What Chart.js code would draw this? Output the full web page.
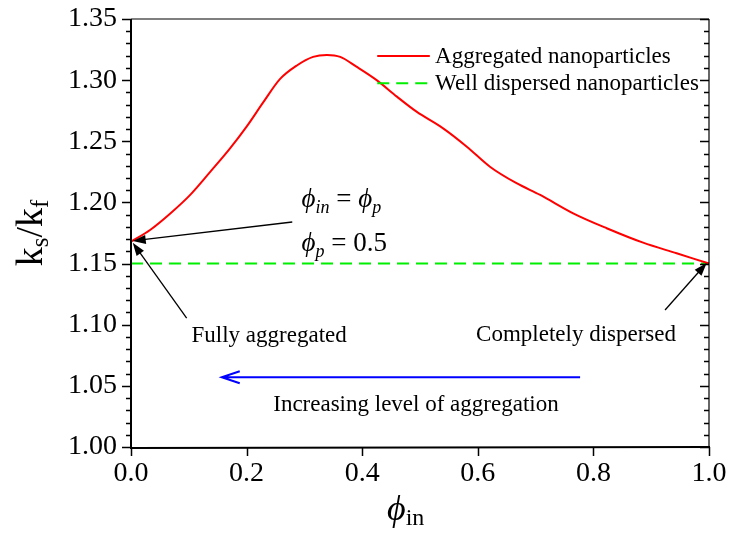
<!DOCTYPE html>
<html>
<head>
<meta charset="utf-8">
<script src="https://cdn.jsdelivr.net/npm/chart.js@4.4.1/dist/chart.umd.min.js"></script>
<style>
  html, body { margin: 0; padding: 0; background: #fff; }
  #wrap { width: 731px; height: 533px; }
</style>
</head>
<body>
<div id="wrap"><canvas id="conductivity" width="731" height="533"></canvas></div>
<script>
// k_s/k_f against the volume fraction inside the aggregates
const phiIn = [0.0, 0.033, 0.068, 0.102, 0.137, 0.171, 0.200, 0.229, 0.258, 0.287, 0.315, 0.339, 0.362, 0.390, 0.425, 0.460, 0.494, 0.540, 0.581, 0.621, 0.667, 0.708, 0.765, 0.823, 0.886, 0.944, 1.0];
const ksKfAggregated = [1.168, 1.1775, 1.191, 1.206, 1.225, 1.244, 1.262, 1.282, 1.301, 1.312, 1.319, 1.3206, 1.319, 1.311, 1.300, 1.2865, 1.2742, 1.2606, 1.2456, 1.2292, 1.2157, 1.2061, 1.1911, 1.1789, 1.1671, 1.1584, 1.15];
const phiWell = [0.0, 1.0];
const ksKfWell = [1.15, 1.15];
const xTicks = [0.0, 0.2, 0.4, 0.6, 0.8, 1.0];
const yTicks = [1.00, 1.05, 1.10, 1.15, 1.20, 1.25, 1.30, 1.35];
const yMinorStep = 0.01;

const SERIF = '"Liberation Serif", "Times New Roman", "DejaVu Serif", serif';

// draw a row of text pieces (for subscripts), returns the end x
function drawRuns(ctx, x, y, runs) {
  ctx.textBaseline = 'alphabetic';
  ctx.textAlign = 'left';
  for (const r of runs) {
    ctx.font = r.font;
    ctx.fillText(r.text, x, y + (r.dy || 0));
    x += ctx.measureText(r.text).width;
  }
  return x;
}

function runsWidth(ctx, runs) {
  let w = 0;
  for (const r of runs) { ctx.font = r.font; w += ctx.measureText(r.text).width; }
  return w;
}

function solidArrow(ctx, x0, y0, x1, y1) {
  const ang = Math.atan2(y1 - y0, x1 - x0);
  const len = 13, half = 4.5;
  ctx.strokeStyle = '#000';
  ctx.fillStyle = '#000';
  ctx.lineWidth = 1.3;
  ctx.beginPath();
  ctx.moveTo(x0, y0);
  ctx.lineTo(x1 - Math.cos(ang) * len * 0.8, y1 - Math.sin(ang) * len * 0.8);
  ctx.stroke();
  ctx.beginPath();
  ctx.moveTo(x1, y1);
  ctx.lineTo(x1 - Math.cos(ang) * len - Math.sin(ang) * half, y1 - Math.sin(ang) * len + Math.cos(ang) * half);
  ctx.lineTo(x1 - Math.cos(ang) * len + Math.sin(ang) * half, y1 - Math.sin(ang) * len - Math.cos(ang) * half);
  ctx.closePath();
  ctx.fill();
}

const frameAndNotes = {
  id: 'frameAndNotes',
  afterDraw(chart) {
    const { ctx, chartArea: a, scales: { x, y } } = chart;
    const P = (vx, vy) => [x.getPixelForValue(vx), y.getPixelForValue(vy)];
    ctx.save();

    // box
    ctx.strokeStyle = '#000';
    ctx.lineWidth = 1.2;
    ctx.beginPath();
    ctx.moveTo(a.left, a.top); ctx.lineTo(a.right, a.top);
    ctx.moveTo(a.right, a.top); ctx.lineTo(a.right, a.bottom);
    ctx.stroke();
    ctx.lineWidth = 2;
    ctx.beginPath();
    ctx.moveTo(a.left, a.top); ctx.lineTo(a.left, a.bottom + 1); ctx.lineTo(a.right + 1, a.bottom);
    ctx.stroke();

    // y ticks: outward on the left, inward on the right
    ctx.lineWidth = 1.5;
    ctx.beginPath();
    const nMinor = Math.round((yTicks[yTicks.length - 1] - yTicks[0]) / yMinorStep);
    for (let i = 0; i <= nMinor; i++) {
      const v = yTicks[0] + i * yMinorStep;
      const py = Math.round(y.getPixelForValue(v)) + 0.5;
      const major = i % 5 === 0;
      const len = major ? 9 : 5;
      ctx.moveTo(a.left - len, py); ctx.lineTo(a.left, py);
      ctx.moveTo(a.right - len, py); ctx.lineTo(a.right, py);
    }
    // x ticks
    for (const v of xTicks) {
      const px = Math.round(x.getPixelForValue(v)) + 0.5;
      ctx.moveTo(px, a.bottom); ctx.lineTo(px, a.bottom + 9);
    }
    ctx.stroke();

    // legend
    const ds = chart.data.datasets;
    const legendRows = [[1.3197, ds[0]], [1.2974, ds[1]]];
    ctx.font = '23px ' + SERIF;
    ctx.textBaseline = 'middle';
    ctx.textAlign = 'left';
    for (const [ly, d] of legendRows) {
      const [lx0, py] = P(0.426, ly);
      const lx1 = x.getPixelForValue(0.517);
      ctx.strokeStyle = d.borderColor;
      ctx.lineWidth = 2;
      ctx.setLineDash(d.borderDash || []);
      ctx.beginPath(); ctx.moveTo(lx0, py); ctx.lineTo(lx1, py); ctx.stroke();
      ctx.setLineDash([]);
      ctx.fillStyle = '#000';
      ctx.fillText(d.label, x.getPixelForValue(0.526), py + 1);
    }

    // arrows
    solidArrow(ctx, ...P(0.279, 1.184), ...P(0.003, 1.1685));
    solidArrow(ctx, ...P(0.0963, 1.1053), ...P(0.003, 1.167));
    solidArrow(ctx, ...P(0.924, 1.112), ...P(0.996, 1.1505));

    // blue arrow for aggregation direction
    const [bx0, by] = P(0.777, 1.057);
    const bx1 = x.getPixelForValue(0.157);
    ctx.strokeStyle = '#0000ff';
    ctx.lineWidth = 2;
    ctx.beginPath();
    ctx.moveTo(bx0, by); ctx.lineTo(bx1, by);
    ctx.moveTo(bx1 + 18, by - 6); ctx.lineTo(bx1, by); ctx.lineTo(bx1 + 18, by + 6);
    ctx.stroke();

    // text notes
    ctx.fillStyle = '#000';
    ctx.font = '23px ' + SERIF;
    ctx.textAlign = 'center';
    ctx.textBaseline = 'middle';
    ctx.fillText('Fully aggregated', ...P(0.239, 1.0908));
    ctx.fillText('Completely dispersed', ...P(0.770, 1.0916));
    ctx.fillText('Increasing level of aggregation', ...P(0.493, 1.0344));

    const big = 'italic 27px ' + SERIF, sub = 'italic 18px ' + SERIF, rom = '27px ' + SERIF;
    drawRuns(ctx, ...P(0.295, 1.1963), [
      { text: '\u03D5', font: big }, { text: 'in', font: sub, dy: 6 },
      { text: ' = ', font: rom }, { text: '\u03D5', font: big }, { text: 'p', font: sub, dy: 6 }
    ]);
    drawRuns(ctx, ...P(0.295, 1.1603), [
      { text: '\u03D5', font: big }, { text: 'p', font: sub, dy: 6 }, { text: ' = 0.5', font: rom }
    ]);

    // axis titles
    const xt = [
      { text: '\u03D5', font: 'italic 36px ' + SERIF },
      { text: 'in', font: '24px ' + SERIF, dy: 5 }
    ];
    drawRuns(ctx, a.left + 256, 520, xt);

    ctx.save();
    ctx.translate(42, (a.top + a.bottom) / 2);
    ctx.rotate(-Math.PI / 2);
    const yt = [
      { text: 'k', font: '38px ' + SERIF },
      { text: 's', font: '25px ' + SERIF, dy: 6 },
      { text: '/', font: '38px ' + SERIF },
      { text: 'k', font: '38px ' + SERIF },
      { text: 'f', font: '25px ' + SERIF, dy: 6 }
    ];
    drawRuns(ctx, -runsWidth(ctx, yt) / 2, 0, yt);
    ctx.restore();

    ctx.restore();
  }
};

new Chart(document.getElementById('conductivity'), {
  type: 'line',
  data: {
    datasets: [
      {
        label: 'Aggregated nanoparticles',
        data: phiIn.map((v, i) => ({ x: v, y: ksKfAggregated[i] })),
        borderColor: '#ff0000',
        borderWidth: 2,
        pointRadius: 0,
        cubicInterpolationMode: 'monotone',
        clip: false
      },
      {
        label: 'Well dispersed nanoparticles',
        data: phiWell.map((v, i) => ({ x: v, y: ksKfWell[i] })),
        borderColor: '#00ee00',
        borderWidth: 2,
        borderDash: [12, 7],
        pointRadius: 0,
        clip: false
      }
    ]
  },
  options: {
    responsive: false,
    animation: false,
    layout: { padding: { top: 19, right: 22, left: 0, bottom: 0 } },
    plugins: { legend: { display: false }, tooltip: { enabled: false } },
    scales: {
      x: {
        type: 'linear',
        min: 0, max: 1,
        afterBuildTicks: s => { s.ticks = xTicks.map(v => ({ value: v })); },
        afterFit: s => { s.height = 86; s.paddingLeft = 0; s.paddingRight = 0; },
        grid: { display: false, drawTicks: false },
        border: { display: false },
        ticks: {
          padding: 10,
          color: '#000',
          font: { family: SERIF, size: 28 },
          maxRotation: 0,
          callback: v => v.toFixed(1)
        }
      },
      y: {
        min: 1.0, max: 1.35,
        afterBuildTicks: s => { s.ticks = yTicks.map(v => ({ value: v })); },
        afterFit: s => { s.width = 131; s.paddingTop = 0; s.paddingBottom = 0; },
        grid: { display: false, drawTicks: false },
        border: { display: false },
        ticks: {
          padding: 14,
          color: '#000',
          font: { family: SERIF, size: 28 },
          callback: v => v.toFixed(2)
        }
      }
    }
  },
  plugins: [frameAndNotes]
});
</script>
</body>
</html>
